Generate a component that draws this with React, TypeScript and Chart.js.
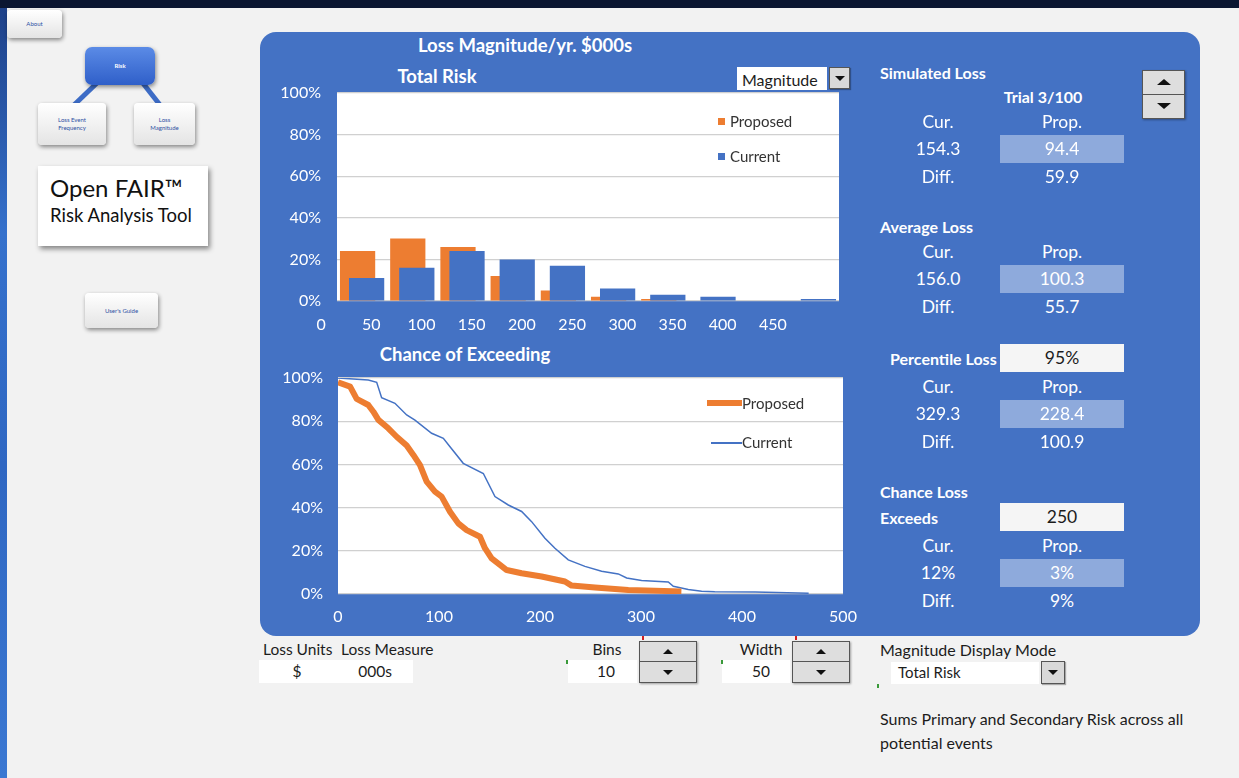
import React, { useEffect, useRef } from 'react';
import { Chart, registerables } from 'chart.js';

Chart.register(...registerables);

// ---------- data ----------
const binLabels = ['0', '50', '100', '150', '200', '250', '300', '350', '400', '450'];
const proposedBinPct = [24, 30, 26, 12, 5, 2, 1, 0, 0, 0];
const currentBinPct = [11, 16, 24, 20, 17, 6, 3, 2, 0, 1];

const proposedLoss = [0, 12, 18.5, 30, 35, 40, 49.8, 58.1, 68, 74.6, 81.2, 87.8, 96, 102.6, 110.9, 119.1, 127.4, 140.6, 145.5, 152.1, 160.4, 167, 181.8, 201.6, 224.7, 231.3, 254.4, 287.4, 340];
const proposedExceedPct = [98, 96, 90.3, 87.5, 84.4, 80.6, 76.7, 72.8, 68.7, 64.4, 59.7, 52, 47.4, 45.1, 38.1, 32.7, 29.6, 26.5, 21.2, 16.5, 13.5, 11.1, 9.6, 8.1, 5.8, 3.9, 3, 1.9, 1.2];

const currentLoss = [0, 30, 38.3, 43.2, 56.4, 68, 76.2, 92.7, 104.3, 110.9, 124, 143.9, 155.4, 168.6, 181.8, 191.7, 204.9, 214.8, 228, 244.5, 261, 277.5, 285.8, 300.6, 327, 332, 346.8, 360, 373, 413, 466];
const currentExceedPct = [100, 99.1, 98, 90.9, 88.3, 82.9, 80.5, 74.4, 72.1, 68.2, 60.5, 55.8, 45.1, 41.2, 38.2, 33.5, 25.8, 21.2, 15.8, 12.8, 10.5, 9.3, 7.4, 6.3, 5.6, 3.6, 2.1, 1.3, 1, 0.9, 0.4];

const seriesNames = ['Proposed', 'Current'];
const simulatedLoss = ['154.3', '94.4', '59.9'];
const averageLoss = ['156.0', '100.3', '55.7'];
const percentileLoss = ['329.3', '228.4', '100.9'];
const chanceExceeds = ['12%', '3%', '9%'];

// ---------- style ----------
const FONT = 'Lato, "Open Sans", sans-serif';
const ORANGE = '#ed7d31';
const BLUE = '#4472c4';
const PANEL = '#4472c4';
const LIGHTBOX = '#8eaadc';

Chart.defaults.font.family = 'Lato';

const plotBg = {
  id: 'plotBg',
  beforeDraw(chart: any) {
    const { ctx, chartArea: a } = chart;
    ctx.save();
    ctx.fillStyle = '#ffffff';
    ctx.fillRect(a.left, a.top, a.right - a.left, a.bottom - a.top);
    ctx.restore();
  },
};

// draw the "Current" bars after (on top of) the "Proposed" bars
const currentOnTop = {
  id: 'currentOnTop',
  beforeDatasetDraw(_chart: any, args: any) {
    if (args.index === 1) return false;
  },
  afterDatasetsDraw(chart: any) {
    const meta = chart.getDatasetMeta(1);
    if (meta && !meta.hidden) meta.controller.draw();
  },
};

function Label({ x, y, children, size = 16, bold = false, color = '#fff', align = 'left' }: any) {
  const tx = align === 'center' ? '-50%' : align === 'right' ? '-100%' : '0';
  return (
    <div
      style={{
        position: 'absolute',
        left: x,
        top: y,
        transform: `translate(${tx}, -50%)`,
        fontSize: size,
        fontWeight: bold ? 700 : 400,
        color,
        whiteSpace: 'nowrap',
        lineHeight: 1.15,
        fontFamily: FONT,
      }}
    >
      {children}
    </div>
  );
}

function Rect({ x, y, w, h, bg, style }: any) {
  return <div style={{ position: 'absolute', left: x, top: y, width: w, height: h, background: bg, boxSizing: 'border-box', ...style }} />;
}

function Tri({ up, size = 6 }: any) {
  return (
    <div
      style={{
        width: 0,
        height: 0,
        borderLeft: `${size}px solid transparent`,
        borderRight: `${size}px solid transparent`,
        ...(up ? { borderBottom: `${Math.round(size * 0.9)}px solid #111` } : { borderTop: `${Math.round(size * 0.9)}px solid #111` }),
      }}
    />
  );
}

function Spinner({ x, y, w, h, tri = 5 }: any) {
  const half: any = { height: '50%', display: 'flex', alignItems: 'center', justifyContent: 'center', boxSizing: 'border-box' };
  return (
    <div style={{ position: 'absolute', left: x, top: y, width: w, height: h, background: '#dedede', border: '1px solid #555', boxSizing: 'border-box', boxShadow: '1px 1px 2px rgba(0,0,0,0.35)' }}>
      <div style={{ ...half, borderBottom: '1px solid #555' }}><Tri up size={tri} /></div>
      <div style={half}><Tri size={tri} /></div>
    </div>
  );
}

function DropBtn({ x, y, w, h }: any) {
  return (
    <div style={{ position: 'absolute', left: x, top: y, width: w, height: h, background: '#d9d9d9', border: '1px solid #555', boxSizing: 'border-box', display: 'flex', alignItems: 'center', justifyContent: 'center', boxShadow: '1px 1px 1px rgba(0,0,0,0.3)' }}>
      <Tri size={5} />
    </div>
  );
}

function Btn({ x, y, w, h, lines, blue = false }: any) {
  return (
    <div
      style={{
        position: 'absolute',
        left: x,
        top: y,
        width: w,
        height: h,
        borderRadius: blue ? 7 : 4,
        background: blue ? 'linear-gradient(180deg,#5b8be6,#2f5fc9)' : 'linear-gradient(180deg,#ffffff,#e4e4e4)',
        boxShadow: '1px 2px 4px rgba(0,0,0,0.45)',
        display: 'flex',
        flexDirection: 'column',
        alignItems: 'center',
        justifyContent: 'center',
        fontFamily: FONT,
        fontSize: 6,
        lineHeight: '8px',
        color: blue ? '#fff' : '#2e4fa3',
        fontWeight: blue ? 700 : 400,
        textAlign: 'center',
      }}
    >
      {lines.map((l: string) => (
        <div key={l}>{l}</div>
      ))}
    </div>
  );
}

const VS = 17.5; // value font size

function ValueRows({ top, values }: any) {
  // top = y of "Cur./Prop." row centre
  return (
    <>
      <Label x={938} y={top} size={VS} align="center">Cur.</Label>
      <Label x={1062} y={top} size={VS} align="center">Prop.</Label>
      <Label x={938} y={top + 27} size={VS} align="center">{values[0]}</Label>
      <Rect x={1000} y={top + 13} w={124} h={28} bg={LIGHTBOX} />
      <Label x={1062} y={top + 27} size={VS} align="center">{values[1]}</Label>
      <Label x={938} y={top + 55} size={VS} align="center">Diff.</Label>
      <Label x={1062} y={top + 55} size={VS} align="center">{values[2]}</Label>
    </>
  );
}

export default function App() {
  const histRef = useRef<HTMLCanvasElement>(null);
  const exceedRef = useRef<HTMLCanvasElement>(null);

  useEffect(() => {
    const tickFont = { size: 16, family: 'Lato' };
    const fixY = (w: number) => (s: any) => {
      s.width = w;
      s.paddingTop = 0;
      s.paddingBottom = 0;
    };
    const fixX = (h: number) => (s: any) => {
      s.height = h;
      s.paddingLeft = 0;
      s.paddingRight = 0;
    };

    const hist = new Chart(histRef.current as HTMLCanvasElement, {
      type: 'bar',
      data: {
        labels: binLabels,
        datasets: [
          { label: seriesNames[0], data: proposedBinPct, backgroundColor: ORANGE, categoryPercentage: 0.36, barPercentage: 3.9 },
          { label: seriesNames[1], data: currentBinPct, backgroundColor: BLUE, categoryPercentage: 0.36, barPercentage: 3.9 },
        ],
      },
      options: {
        animation: false,
        responsive: false,
        layout: { padding: { top: 10, right: 20, left: 0, bottom: 0 } },
        plugins: { legend: { display: false }, tooltip: { enabled: false } },
        scales: {
          x: {
            grid: { display: false, drawTicks: false },
            border: { display: false },
            ticks: { color: '#ffffff', font: tickFont, padding: 14, labelOffset: -41, autoSkip: false, maxRotation: 0 },
            afterFit: fixX(37),
          },
          y: {
            min: 0,
            max: 100,
            grid: { color: '#d0d0d0', drawTicks: false, lineWidth: 1.2 },
            border: { display: false },
            ticks: { stepSize: 20, color: '#ffffff', font: tickFont, padding: 16, callback: (v: any) => v + '%' },
            afterFit: fixY(75),
          },
        },
      } as any,
      plugins: [plotBg, currentOnTop],
    });

    const exceed = new Chart(exceedRef.current as HTMLCanvasElement, {
      type: 'line',
      data: {
        datasets: [
          {
            label: seriesNames[0],
            data: proposedLoss.map((x, i) => ({ x, y: proposedExceedPct[i] })),
            borderColor: ORANGE,
            borderWidth: 6,
            pointRadius: 0,
            tension: 0,
            borderJoinStyle: 'round',
          },
          {
            label: seriesNames[1],
            data: currentLoss.map((x, i) => ({ x, y: currentExceedPct[i] })),
            borderColor: BLUE,
            borderWidth: 1.5,
            pointRadius: 0,
            tension: 0,
          },
        ],
      },
      options: {
        animation: false,
        responsive: false,
        layout: { padding: { top: 10, right: 20, left: 0, bottom: 0 } },
        plugins: { legend: { display: false }, tooltip: { enabled: false } },
        scales: {
          x: {
            type: 'linear',
            min: 0,
            max: 500,
            grid: { display: false, drawTicks: false },
            border: { display: false },
            ticks: { stepSize: 100, color: '#ffffff', font: tickFont, padding: 13, maxRotation: 0 },
            afterFit: fixX(36),
          },
          y: {
            min: 0,
            max: 100,
            grid: { color: '#d0d0d0', drawTicks: false, lineWidth: 1.2 },
            border: { display: false },
            ticks: { stepSize: 20, color: '#ffffff', font: tickFont, padding: 15, callback: (v: any) => v + '%' },
            afterFit: fixY(76),
          },
        },
      } as any,
      plugins: [plotBg],
    });

    return () => {
      hist.destroy();
      exceed.destroy();
    };
  }, []);

  const dark = '#1c1c1c';

  return (
    <div style={{ position: 'fixed', left: 0, top: 0, width: 1239, height: 778, overflow: 'hidden', background: '#f2f2f2', fontFamily: FONT }}>
      {/* frame */}
      <Rect x={0} y={0} w={7} h={778} bg="linear-gradient(180deg,#1d3f86,#3571cc 30%,#2f67c2 60%,#3b78d2)" />
      <Rect x={0} y={0} w={1239} h={8} bg="#0b1631" />

      {/* left navigation */}
      <svg style={{ position: 'absolute', left: 0, top: 0 }} width={260} height={200}>
        <line x1={98} y1={82} x2={74} y2={105} stroke="#3d6cc6" strokeWidth={5} />
        <line x1={142} y1={82} x2={160} y2={105} stroke="#3d6cc6" strokeWidth={5} />
      </svg>
      <Btn x={7} y={10} w={55} h={28} lines={['About']} />
      <Btn x={85} y={47} w={70} h={38} lines={['Risk']} blue />
      <Btn x={38} y={103} w={68} h={42} lines={['Loss Event', 'Frequency']} />
      <Btn x={134} y={103} w={61} h={42} lines={['Loss', 'Magnitude']} />
      <div style={{ position: 'absolute', left: 38, top: 166, width: 170, height: 80, background: '#ffffff', boxShadow: '2px 3px 5px rgba(0,0,0,0.45)' }} />
      <Label x={50} y={188} size={24} color="#111">Open FAIR™</Label>
      <Label x={50} y={216} size={18.5} color="#111">Risk Analysis Tool</Label>
      <Btn x={85} y={293} w={73} h={35} lines={["User's Guide"]} />

      {/* blue panel */}
      <div style={{ position: 'absolute', left: 260, top: 32, width: 940, height: 604, borderRadius: 16, background: PANEL }} />

      <Label x={525} y={46} size={18.5} bold align="center">Loss Magnitude/yr. $000s</Label>
      <Label x={437} y={77} size={18.5} bold align="center">Total Risk</Label>

      {/* magnitude dropdown */}
      <Rect x={737} y={67} w={90} h={23} bg="#ffffff" />
      <Label x={742} y={80} size={16} color={dark}>Magnitude</Label>
      <DropBtn x={829} y={67} w={21} h={22} />

      <canvas ref={histRef} width={597} height={255} style={{ position: 'absolute', left: 262, top: 83, width: 597, height: 255 }} />
      {/* histogram legend */}
      <Rect x={718} y={118} w={7} h={7} bg={ORANGE} />
      <Label x={730} y={122} size={15} color="#333">{seriesNames[0]}</Label>
      <Rect x={718} y={153} w={7} h={7} bg={BLUE} />
      <Label x={730} y={157} size={15} color="#333">{seriesNames[1]}</Label>

      <Label x={465} y={355} size={18.5} bold align="center">Chance of Exceeding</Label>
      <canvas ref={exceedRef} width={601} height={262} style={{ position: 'absolute', left: 262, top: 368, width: 601, height: 262 }} />
      {/* exceedance legend */}
      <Rect x={707} y={400} w={35} h={6} bg={ORANGE} />
      <Label x={742} y={404} size={15} color="#333">{seriesNames[0]}</Label>
      <Rect x={711} y={442} w={31} h={1.5} bg={BLUE} />
      <Label x={742} y={443} size={15} color="#333">{seriesNames[1]}</Label>

      {/* right statistics */}
      <Label x={880} y={73} size={16} bold>Simulated Loss</Label>
      <Label x={1043} y={97} size={16} bold align="center">Trial 3/100</Label>
      <Spinner x={1142} y={70} w={43} h={49} tri={7} />
      <ValueRows top={122} values={simulatedLoss} />

      <Label x={880} y={227} size={16} bold>Average Loss</Label>
      <ValueRows top={252} values={averageLoss} />

      <Label x={890} y={359} size={16} bold>Percentile Loss</Label>
      <Rect x={1000} y={344} w={124} h={28} bg="#f5f5f5" />
      <Label x={1062} y={358} size={VS} color={dark} align="center">95%</Label>
      <ValueRows top={387} values={percentileLoss} />

      <Label x={880} y={492} size={16} bold>Chance Loss</Label>
      <Label x={880} y={518} size={16} bold>Exceeds</Label>
      <Rect x={1000} y={503} w={124} h={28} bg="#f5f5f5" />
      <Label x={1062} y={517} size={VS} color={dark} align="center">250</Label>
      <ValueRows top={546} values={chanceExceeds} />

      {/* bottom controls */}
      <Label x={263} y={650} size={15.5} color={dark}>Loss Units</Label>
      <Label x={341} y={650} size={15.5} color={dark}>Loss Measure</Label>
      <Rect x={259} y={660} w={154} h={23} bg="#ffffff" />
      <Label x={297} y={672} size={15.5} color={dark} align="center">$</Label>
      <Label x={375} y={672} size={15.5} color={dark} align="center">000s</Label>

      <Label x={607} y={650} size={15.5} color={dark} align="center">Bins</Label>
      <Rect x={568} y={660} w={69} h={23} bg="#ffffff" />
      <Label x={606} y={672} size={15.5} color={dark} align="center">10</Label>
      <Spinner x={639} y={641} w={58} h={42} />

      <Label x={761} y={650} size={15.5} color={dark} align="center">Width</Label>
      <Rect x={722} y={660} w={68} h={23} bg="#ffffff" />
      <Label x={761} y={672} size={15.5} color={dark} align="center">50</Label>
      <Spinner x={792} y={641} w={58} h={42} />

      <Rect x={566} y={660} w={2} h={4} bg="#3a9a3a" />
      <Rect x={721} y={660} w={2} h={4} bg="#3a9a3a" />
      <Rect x={877} y={684} w={2} h={4} bg="#3a9a3a" />
      <Rect x={642} y={636} w={2} h={4} bg="#d02020" />
      <Rect x={795} y={636} w={2} h={4} bg="#d02020" />

      <Label x={880} y={650} size={16} color={dark}>Magnitude Display Mode</Label>
      <Rect x={891} y={662} w={148} h={22} bg="#ffffff" />
      <Label x={898} y={673} size={15} color={dark}>Total Risk</Label>
      <DropBtn x={1041} y={661} w={24} h={23} />

      <Label x={880} y={719} size={16} color={dark}>Sums Primary and Secondary Risk across all</Label>
      <Label x={880} y={743} size={16} color={dark}>potential events</Label>
    </div>
  );
}
